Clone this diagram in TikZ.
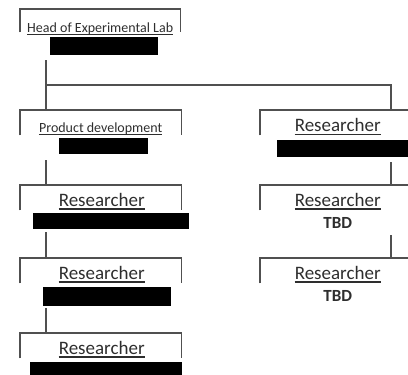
\documentclass[tikz,border=0pt]{standalone}
\usepackage{fontspec}
\setmainfont{Carlito}
\usetikzlibrary{positioning}
\definecolor{linegray}{HTML}{505050}
\definecolor{textgray}{HTML}{2E2E2E}

\begin{document}
\begin{tikzpicture}[x=1pt,y=-1pt,
  unit/.style={minimum width=161pt,minimum height=25pt,inner sep=0pt,anchor=north west},
  frame/.style={draw=linegray,line width=1.1pt},
  link/.style={draw=linegray,line width=1.1pt},
  uline/.style={draw=textgray,line width=1.3pt},
  head/.style={inner sep=0pt,text height=9.5pt,text depth=2.2pt,text=textgray,font=\fontsize{14}{14}\selectfont},
  role/.style={inner sep=0pt,text height=11.5pt,text depth=2.6pt,text=textgray,font=\fontsize{19}{19}\selectfont},
  who/.style={inner sep=0pt,text height=11.5pt,text depth=0pt,text=textgray,font=\fontsize{17}{17}\selectfont\bfseries},
  redact/.style={fill=black,inner sep=0pt,anchor=north west}]
\clip (0,0) rectangle (408,375);
%\draw [red!40] (0,0) grid[step=50] (408,375);

% boxes, left column
\node[unit,minimum width=160pt,minimum height=23pt] (hl) at (20,9) {};
\node[unit] (pd) at (20,110) {};
\node[unit] (r1) at (20,185) {};
\node[unit] (r2) at (20,258) {};
\node[unit] (r3) at (20,333) {};
% boxes, right column
\node[unit,minimum width=155pt] (s1) at (260,110) {};
\node[unit,minimum width=155pt] (s2) at (260,185) {};
\node[unit,minimum width=155pt] (s3) at (260,258) {};

\foreach \b in {hl,pd,r1,r2,r3,s1,s2,s3}
  \draw[frame] (\b.south west) -- (\b.north west) -- (\b.north east) -- (\b.south east);

% titles
\node[head,below=13.5pt of hl.north] (hl-t) {Head of Experimental Lab};
\node[head,below=12.5pt of pd.north] (pd-t) {Product development};
\node[role,below=9.5pt of r1.north,xshift=1pt] (r1-t) {Researcher};
\node[role,below=9.5pt of r2.north,xshift=1pt] (r2-t) {Researcher};
\node[role,below=9.5pt of r3.north,xshift=1pt] (r3-t) {Researcher};
\node[role,below=10pt of s1.north] (s1-t) {Researcher};
\node[role,below=9.5pt of s2.north] (s2-t) {Researcher};
\node[role,below=9.5pt of s3.north] (s3-t) {Researcher};
\node[who,below=32pt of s2.north] (s2-n) {TBD};
\node[who,below=32pt of s3.north] (s3-n) {TBD};

\foreach \t in {hl-t,pd-t,r1-t,r2-t,r3-t,s1-t,s2-t,s3-t}
  \draw[uline] (\t.south west) -- (\t.south east);

% blacked out names
\node[redact,minimum width=108pt,minimum height=18pt] (hl-n) at (50,37) {};
\node[redact,minimum width=89pt,minimum height=16pt] (pd-n) at (59,138) {};
\node[redact,minimum width=156pt,minimum height=16pt] (r1-n) at (33,213) {};
\node[redact,minimum width=128pt,minimum height=19pt] (r2-n) at (43,287) {};
\node[redact,minimum width=152pt,minimum height=16pt] (r3-n) at (30,362) {};
\node[redact,minimum width=140pt,minimum height=17pt] (s1-n) at (277,140) {};

% connectors
\coordinate (trunk) at (46,60);
\coordinate (fork) at (46,85);
\coordinate (s1-in) at (391,110);
\draw[link] (trunk) -- (trunk |- pd.north);
\draw[link] (fork) -| (s1-in);
\coordinate (pd-out) at (46,160);
\coordinate (r1-out) at (46,232);
\coordinate (r2-out) at (46,308);
\draw[link] (pd-out) -- (pd-out |- r1.north);
\draw[link] (r1-out) -- (r1-out |- r2.north);
\draw[link] (r2-out) -- (r2-out |- r3.north);
\coordinate (s1-out) at (391,162);
\coordinate (s2-out) at (391,235);
\draw[link] (s1-out) -- (s1-out |- s2.north);
\draw[link] (s2-out) -- (s2-out |- s3.north);
\end{tikzpicture}
\end{document}
